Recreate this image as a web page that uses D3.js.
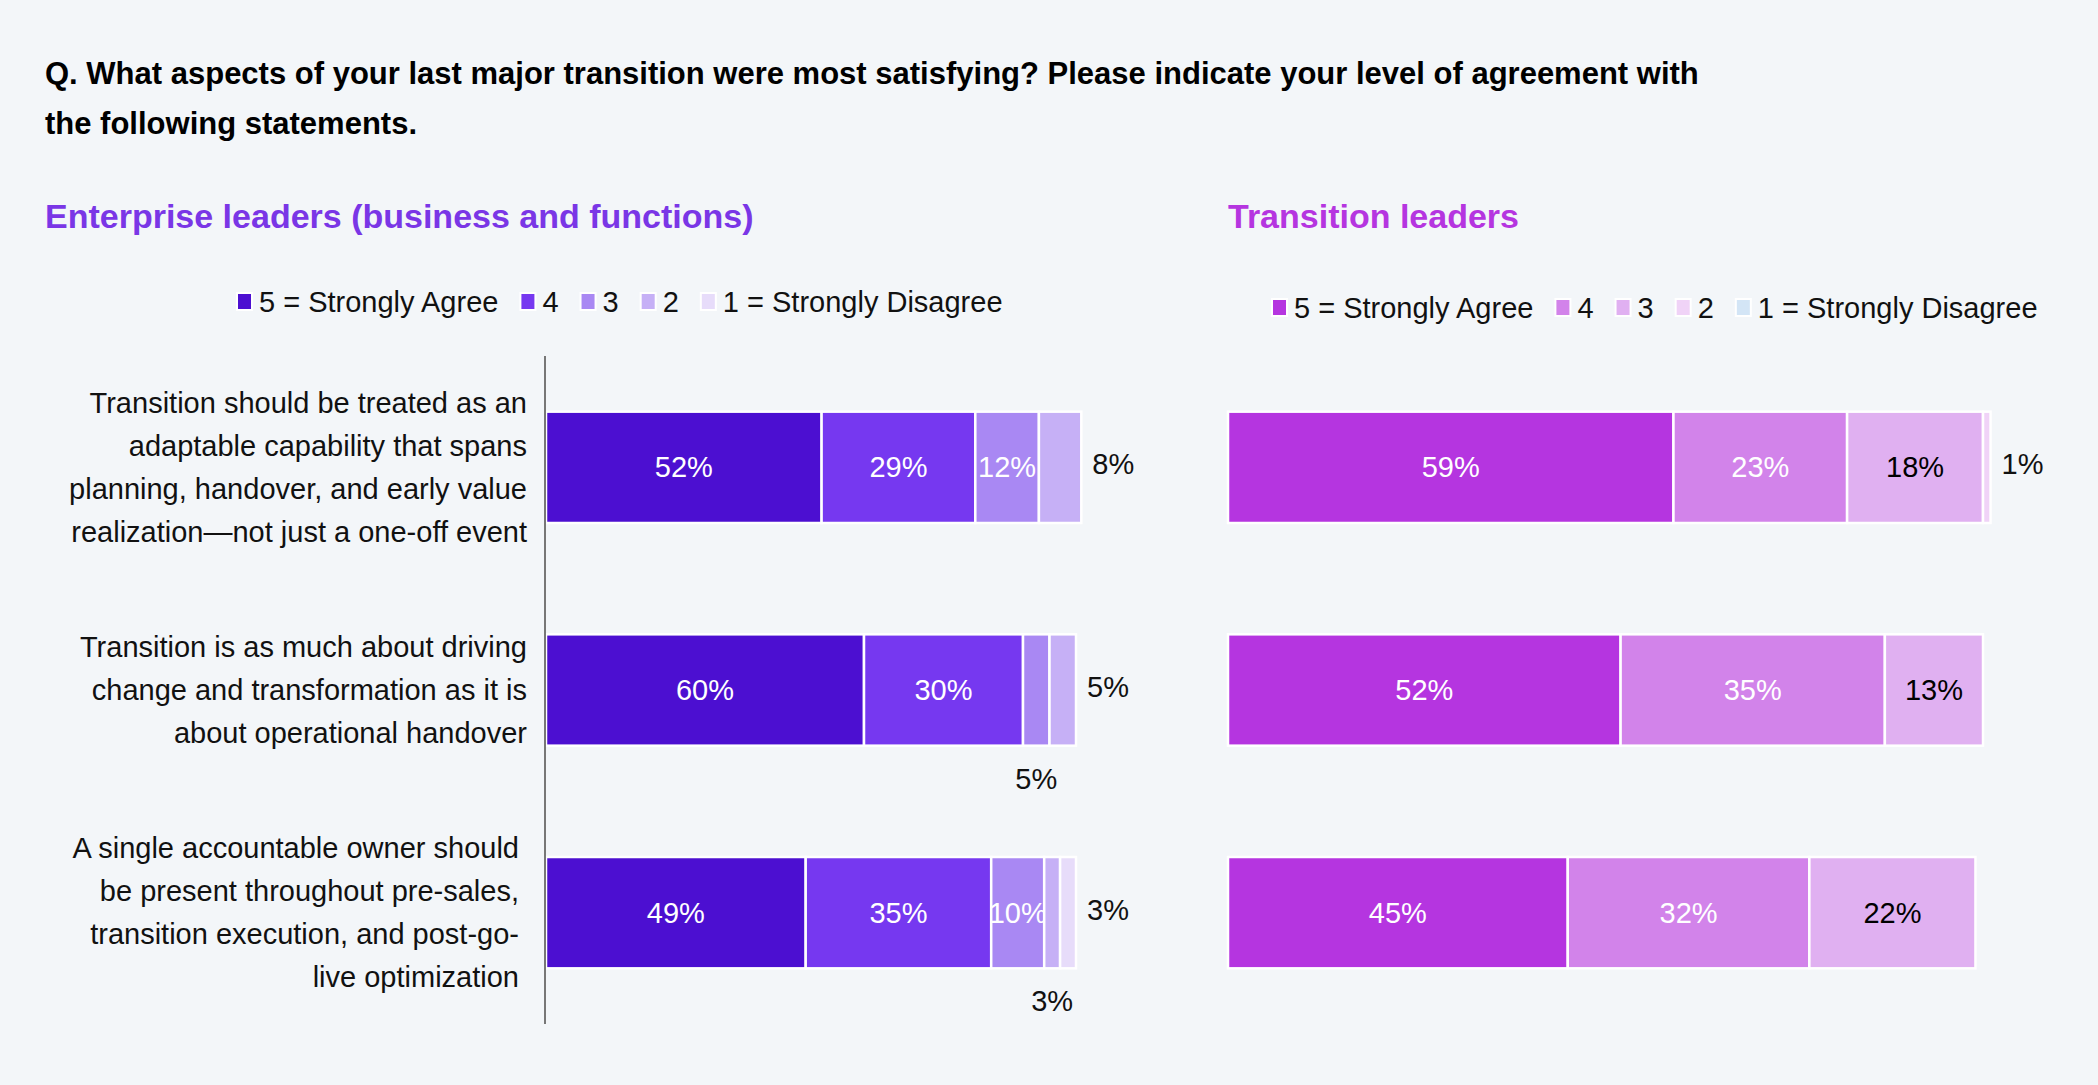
<!DOCTYPE html>
<html lang="en">
<head>
<meta charset="UTF-8" />
<script src="https://d3js.org/d3.v7.min.js"></script>
<style>
  body { margin: 0; background: #f3f6f9; font-family: "Liberation Sans", Arial, sans-serif; }
  svg text { font-family: "Liberation Sans", Arial, sans-serif; }
</style>
</head>
<body>
<svg id="chart" width="2098" height="1085"></svg>
<script>
const categories = [
  ['Transition should be treated as an', 'adaptable capability that spans', 'planning, handover, and early value', 'realization\u2014not just a one-off event'],
  ['Transition is as much about driving', 'change and transformation as it is', 'about operational handover'],
  ['A single accountable owner should', 'be present throughout pre-sales,', 'transition execution, and post-go-', 'live optimization']
];
const levels = ['5 = Strongly Agree', '4', '3', '2', '1 = Strongly Disagree'];
const enterpriseValues = [[52, 29, 12, 8], [60, 30, 5, 5], [49, 35, 10, 3, 3]];
const transitionValues = [[59, 23, 18, 1], [52, 35, 13], [45, 32, 22]];

const svg = d3.select('#chart');

svg.append('text').attr('x', 45).attr('y', 84).attr('font-size', 31).attr('font-weight', 'bold').attr('fill', '#000')
  .text('Q. What aspects of your last major transition were most satisfying? Please indicate your level of agreement with');
svg.append('text').attr('x', 45).attr('y', 134).attr('font-size', 31).attr('font-weight', 'bold').attr('fill', '#000')
  .text('the following statements.');

const panels = [
  { title: 'Enterprise leaders (business and functions)', titleColor: '#7a36e6', tx: 45,
    values: enterpriseValues, x0: 546, w100: 530,
    colors: ['#4c0fd1', '#7638f0', '#a988f3', '#c6b0f6', '#e7dcfa'],
    textColors: ['#fff', '#fff', '#fff', '#000', '#000'],
    legendX: 237, legendY: 302 },
  { title: 'Transition leaders', titleColor: '#b535e0', tx: 1228,
    values: transitionValues, x0: 1228, w100: 755,
    colors: ['#b535e0', '#d283ea', '#e0b0f1', '#f0d3f7', '#d3e5f6'],
    textColors: ['#fff', '#fff', '#000', '#000', '#000'],
    legendX: 1272, legendY: 308 }
];

const y = d3.scaleBand().domain(d3.range(categories.length)).range([356, 1024]).paddingInner(0.5).paddingOuter(0.25);

panels.forEach(p => {
  svg.append('text').attr('x', p.tx).attr('y', 228).attr('font-size', 34).attr('font-weight', 'bold')
    .attr('fill', p.titleColor).text(p.title);

  // legend
  let lx = p.legendX;
  levels.forEach((lv, i) => {
    svg.append('rect').attr('x', lx).attr('y', p.legendY - 9).attr('width', 15).attr('height', 17)
      .attr('fill', p.colors[i]).attr('stroke', '#fff').attr('stroke-width', 2);
    const t = svg.append('text').attr('x', lx + 22).attr('y', p.legendY + 10).attr('font-size', 29)
      .attr('fill', '#111').text(lv);
    lx += 22 + t.node().getComputedTextLength() + 22;
  });

  const x = d3.scaleLinear().domain([0, 100]).range([p.x0, p.x0 + p.w100]);

  p.values.forEach((vals, r) => {
    const y0 = y(r), h = y.bandwidth();
    let acc = 0;
    vals.forEach((v, i) => {
      const xs = x(acc), xe = x(acc + v);
      svg.append('rect').attr('x', xs).attr('y', y0).attr('width', xe - xs).attr('height', h)
        .attr('fill', p.colors[i]).attr('stroke', '#fff').attr('stroke-width', 2.5);
      const last = i === vals.length - 1;
      let lxp, lyp, col = p.textColors[i];
      if (v <= 8 && last) { lxp = x(acc + v) + 32; lyp = y0 + h / 2 - 3; col = '#111'; }
      else if (v < 8) { lxp = (xs + xe) / 2; lyp = y0 + h + 33; col = '#111'; }
      else { lxp = (xs + xe) / 2; lyp = y0 + h / 2; }
      svg.append('text').attr('x', lxp).attr('y', lyp).attr('dy', '0.35em').attr('text-anchor', 'middle')
        .attr('font-size', 29).attr('fill', col).text(v + '%');
      acc += v;
    });
  });
});

// category labels
categories.forEach((lines, r) => {
  const cy = y(r) + y.bandwidth() / 2;
  const lh = 43;
  const xr = r === 2 ? 519 : 527;
  lines.forEach((ln, j) => {
    svg.append('text').attr('x', xr).attr('y', cy + (j - (lines.length - 1) / 2) * lh).attr('dy', '0.35em')
      .attr('text-anchor', 'end').attr('font-size', 29).attr('fill', '#111').text(ln);
  });
});

// axis line
svg.append('line').attr('x1', 545).attr('x2', 545).attr('y1', 356).attr('y2', 1024)
  .attr('stroke', '#777').attr('stroke-width', 2);
</script>
</body>
</html>
